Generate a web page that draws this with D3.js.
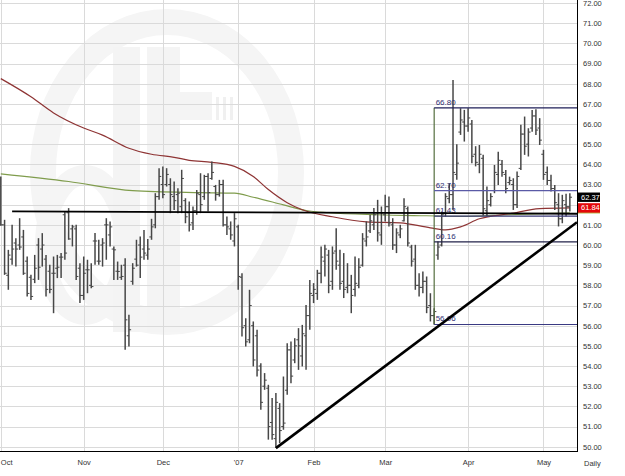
<!DOCTYPE html>
<html>
<head>
<meta charset="utf-8">
<script src="https://cdnjs.cloudflare.com/ajax/libs/d3/7.8.5/d3.min.js"></script>
<style>
  body { margin: 0; background: #fff; }
  svg { display: block; }
</style>
</head>
<body>
<div id="chart"></div>
<script>
// daily bars per month, each row is [open, high, low, close]
const oct06 = [
  [62.9, 63.40, 60.95, 61.0], [61.0, 61.25, 58.52, 58.6], [58.5, 59.76, 57.78, 59.5], [59.3, 61.0, 59.02, 59.8],
  [60.1, 60.34, 58.93, 59.8], [60.0, 61.33, 59.76, 59.9], [60.4, 60.75, 58.52, 58.6], [59.2, 59.43, 57.45, 57.6],
  [58.4, 58.52, 57.28, 57.45], [58.3, 59.51, 58.11, 58.85], [60.0, 60.34, 58.27, 58.9], [59.8, 60.59, 58.93, 60.0],
  [59.3, 59.51, 57.45, 57.8], [58.7, 59.02, 57.61, 57.8], [58.6, 59.43, 56.62, 58.6], [58.85, 59.51, 58.36, 58.9],
  [59.4, 59.6, 58.36, 59.4], [61.5, 61.66, 59.27, 59.6], [61.6, 61.83, 60.26, 60.3], [60.8, 61.0, 59.93, 60.9],
  [60.8, 61.0, 58.27, 58.44], [58.85, 59.1, 57.12, 57.5]
];
const nov06 = [
  [57.5, 59.43, 57.28, 58.6], [58.77, 59.27, 57.61, 58.77], [58.0, 59.1, 57.86, 57.94], [60.2, 60.59, 59.02, 60.2],
  [59.2, 60.26, 59.02, 59.2], [60.0, 60.34, 58.93, 60.1], [61.0, 61.33, 59.27, 61.0], [60.5, 61.17, 59.93, 60.9],
  [59.8, 59.93, 58.27, 59.76], [58.7, 59.18, 58.27, 58.69], [58.4, 59.02, 58.27, 58.44], [59.0, 59.35, 54.81, 56.29],
  [55.5, 56.54, 54.97, 55.8], [58.2, 59.1, 58.03, 58.85], [59.3, 60.26, 58.93, 59.0], [60.0, 60.42, 58.36, 59.4],
  [59.8, 60.75, 59.27, 59.6], [59.5, 60.3, 59.27, 59.8], [60.4, 61.3, 60.26, 60.9], [61.0, 62.57, 60.83, 62.4],
  [62.4, 63.81, 62.24, 63.4]
];
const dec06 = [
  [63.0, 63.89, 62.32, 62.5], [63.0, 63.81, 62.9, 63.5], [63.0, 63.31, 61.58, 62.5], [62.4, 63.15, 61.74, 62.2],
  [62.5, 62.82, 61.58, 62.57], [61.9, 63.73, 61.58, 63.3], [62.2, 62.32, 61.08, 61.4], [61.6, 62.16, 60.67, 61.0],
  [61.1, 61.91, 60.75, 61.7], [61.7, 62.73, 61.5, 62.57], [62.5, 63.56, 61.58, 62.0], [62.4, 63.48, 62.24, 63.4],
  [63.4, 63.56, 61.66, 62.6], [63.3, 64.14, 63.23, 63.6], [62.9, 62.98, 62.2, 62.5], [62.5, 63.23, 62.4, 63.0],
  [63.0, 63.23, 60.92, 61.0], [61.0, 61.41, 60.5, 60.9], [60.8, 61.17, 60.26, 60.5], [60.2, 61.58, 59.93, 61.3]
];
const jan07 = [
  [60.9, 61.0, 57.78, 58.44], [58.4, 58.6, 55.47, 55.9], [56.0, 56.37, 54.97, 55.2], [55.3, 57.78, 55.13, 57.0],
  [56.0, 56.21, 53.98, 54.3], [55.5, 55.8, 53.48, 53.8], [54.0, 54.14, 51.83, 52.2], [53.0, 53.65, 52.82, 53.3],
  [52.9, 53.07, 50.35, 51.0], [51.2, 52.41, 50.35, 50.6], [50.4, 52.66, 49.93, 52.2], [51.9, 52.16, 50.18, 50.8],
  [51.0, 53.48, 50.84, 51.17], [52.8, 55.13, 52.58, 54.8], [54.8, 55.21, 53.15, 53.5], [54.3, 55.38, 54.14, 55.0],
  [55.3, 55.88, 53.81, 55.0], [54.5, 56.04, 53.98, 55.6], [55.5, 57.03, 53.81, 56.5], [56.5, 58.27, 55.8, 57.6]
];
const feb07 = [
  [57.5, 58.11, 57.12, 57.8], [57.6, 58.77, 57.28, 58.6], [58.6, 59.93, 58.11, 59.4], [59.2, 60.01, 58.44, 59.8],
  [59.5, 59.76, 57.61, 58.0], [58.2, 59.93, 57.78, 59.6], [59.7, 60.83, 58.77, 59.2], [59.0, 59.76, 57.78, 58.1],
  [58.2, 59.6, 57.37, 57.8], [57.9, 59.1, 57.61, 58.0], [58.0, 58.52, 56.62, 57.5], [57.8, 59.43, 57.45, 58.1],
  [58.0, 59.35, 57.86, 58.9], [59.0, 60.59, 58.93, 60.3], [60.2, 61.17, 59.93, 60.4], [60.7, 61.5, 60.59, 61.2],
  [61.0, 61.83, 60.75, 61.5], [61.6, 62.24, 60.17, 60.6], [60.5, 61.91, 60.01, 61.6]
];
const mar07 = [
  [61.5, 62.49, 61.17, 61.9], [61.9, 62.4, 60.92, 61.1], [61.0, 61.33, 59.76, 60.0], [60.0, 60.83, 59.6, 60.6],
  [60.5, 61.0, 60.34, 60.8], [61.2, 62.32, 61.17, 61.9], [61.8, 61.91, 59.93, 60.1], [59.9, 60.01, 58.93, 59.2],
  [59.3, 60.01, 57.78, 58.0], [58.0, 58.6, 57.45, 57.9], [57.9, 58.69, 57.61, 58.2], [58.2, 58.44, 56.62, 56.9],
  [57.0, 57.61, 56.21, 56.5], [56.5, 56.87, 56.06, 56.7], [59.5, 60.17, 59.27, 59.9], [60.0, 61.66, 59.93, 61.5],
  [61.6, 62.57, 61.41, 62.4], [62.3, 63.06, 62.07, 62.5], [62.5, 68.18, 61.74, 63.6], [63.5, 65.0, 63.23, 64.06],
  [65.6, 66.78, 65.46, 66.2], [66.1, 66.7, 65.13, 65.9]
];
const apr07 = [
  [65.9, 66.78, 65.62, 66.3], [66.0, 66.2, 64.06, 64.4], [64.5, 64.9, 63.9, 64.1], [64.0, 64.96, 63.56, 64.5],
  [64.3, 64.47, 61.45, 61.8], [61.7, 62.9, 61.41, 62.2], [62.0, 62.57, 61.91, 62.4], [62.7, 63.97, 62.57, 63.6],
  [63.5, 64.63, 62.98, 64.2], [64.0, 64.22, 63.39, 63.6], [63.5, 63.72, 62.57, 62.8], [63.1, 63.39, 62.98, 63.2],
  [63.0, 63.31, 61.74, 62.0], [62.0, 63.64, 61.83, 63.4], [63.8, 65.96, 63.72, 65.5], [65.5, 66.37, 64.47, 64.9],
  [65.0, 65.79, 64.39, 65.6], [65.8, 66.7, 65.62, 66.4], [66.4, 66.73, 65.46, 65.7], [65.8, 66.29, 64.96, 65.2]
];
const may07 = [
  [64.5, 64.72, 63.23, 63.5], [63.6, 63.89, 62.98, 63.2], [63.2, 63.48, 62.65, 62.8], [62.8, 62.98, 61.74, 62.1],
  [62.0, 62.57, 60.92, 61.3], [61.3, 62.49, 61.08, 62.2], [62.0, 62.54, 61.41, 61.9], [61.9, 62.57, 61.66, 62.37]
];

const months = [oct06, nov06, dec06, jan07, feb07, mar07, apr07, may07];
const monthNames = ["Oct", "Nov", "Dec", "'07", "Feb", "Mar", "Apr", "May"];

// moving averages at some bars: [bar, value]
const maRed = [
  [0, 68.25], [8, 67.35], [14, 66.55], [22, 65.8], [27, 65.45], [34, 64.8], [40, 64.5], [46, 64.35],
  [50, 64.2], [56, 64.1], [62, 63.9], [67, 63.4], [71, 62.75], [76, 62.1], [80, 61.75], [88, 61.4],
  [97, 61.15], [106, 61.1], [114, 60.85], [118, 60.75], [122, 60.9], [127, 61.3], [135, 61.55],
  [143, 61.8], [151, 61.84]
];
const maGreen = [
  [0, 63.53], [18, 63.15], [35, 62.7], [53, 62.6], [62, 62.57], [67, 62.37], [75, 61.99], [81, 61.71],
  [87, 61.6], [100, 61.5], [113, 61.45], [122, 61.42], [135, 61.5], [151, 61.6]
];

// drawn studies: [bar, price]
const neckline = [[3, 61.67], [152.9, 61.55]];
const trendline = [[73, 49.93], [152.9, 61.13]];
const fibStart = 115;
const fibLevels = [66.80, 62.70, 61.43, 60.16, 56.06];
const fibColors = ["#1f1f58", "#5a5aa6", "#3a3a78", "#22224a", "#3a3a82"];

const priceTicks = d3.range(50, 73);
const lastClose = 62.37;

const width = 625, height = 476;
const plotRight = 577, plotBottom = 451;
const font = "'Liberation Sans', Arial, sans-serif";

const bars = months.flat().map((d, i) => ({i: i, o: d[0], h: d[1], l: d[2], c: d[3]}));
let k = 0;
const monthStarts = months.map(m => { const s = k; k += m.length; return s; });

const lastRed = maRed[maRed.length - 1][1];
const lastGreen = maGreen[maGreen.length - 1][1];

const x = d3.scaleLinear().domain([0, 152.9]).range([0.8, plotRight]);
const y = d3.scaleLinear().domain([50, 72]).range([446.7, 3]);

const svg = d3.select("#chart").append("svg")
    .attr("width", width)
    .attr("height", height)
    .style("font-family", font);

svg.append("defs").append("clipPath").attr("id", "plot")
  .append("rect").attr("x", 0).attr("y", 0).attr("width", plotRight).attr("height", plotBottom);

// faint logo in the background
const logo = svg.append("g").attr("fill", "none").attr("stroke", "#f5f5f5");
logo.append("ellipse").attr("cx", 167).attr("cy", 172).attr("rx", 124).attr("ry", 150).attr("stroke-width", 26);
logo.append("ellipse").attr("cx", 85).attr("cy", 245).attr("rx", 40).attr("ry", 70).attr("stroke-width", 20);
logo.append("rect").attr("x", 113).attr("y", 47).attr("width", 27).attr("height", 285).attr("fill", "#f4f4f4").attr("stroke", "none");
logo.append("rect").attr("x", 147).attr("y", 47).attr("width", 33).attr("height", 285).attr("fill", "#f4f4f4").attr("stroke", "none");
logo.append("rect").attr("x", 180).attr("y", 92).attr("width", 32).attr("height", 28).attr("fill", "#f4f4f4").attr("stroke", "none");
logo.selectAll(".tick3").data([0, 1, 2]).join("rect")
    .attr("x", d => 216 + d * 7).attr("y", 97).attr("width", 3).attr("height", 23)
    .attr("fill", "#f0f0f0").attr("stroke", "none");

// grid
svg.append("g").attr("stroke", "#dadada").attr("stroke-width", 1)
  .selectAll("line").data(priceTicks).join("line")
    .attr("x1", 0).attr("x2", plotRight)
    .attr("y1", d => Math.round(y(d)) + 0.5).attr("y2", d => Math.round(y(d)) + 0.5);
svg.append("g").attr("stroke", "#dadada").attr("stroke-width", 1)
  .selectAll("line").data(monthStarts).join("line")
    .attr("x1", d => Math.round(x(d)) + 0.5).attr("x2", d => Math.round(x(d)) + 0.5)
    .attr("y1", 0).attr("y2", plotBottom);

const plot = svg.append("g").attr("clip-path", "url(#plot)");

// moving averages
const maLine = d3.line().x(d => x(d[0])).y(d => y(d[1])).curve(d3.curveMonotoneX);
plot.append("path").datum(maGreen).attr("d", maLine)
    .attr("fill", "none").attr("stroke", "#7f9c4c").attr("stroke-width", 1.2);
plot.append("path").datum(maRed).attr("d", maLine)
    .attr("fill", "none").attr("stroke", "#8e3434").attr("stroke-width", 1.2);

// OHLC bars
const bar = plot.append("g").attr("stroke", "#474747")
  .selectAll("g").data(bars).join("g");
bar.append("line")
    .attr("x1", d => x(d.i)).attr("x2", d => x(d.i))
    .attr("y1", d => y(d.h)).attr("y2", d => y(d.l))
    .attr("stroke-width", 1.5);
bar.append("line")
    .attr("x1", d => x(d.i) - 2.2).attr("x2", d => x(d.i))
    .attr("y1", d => y(d.o)).attr("y2", d => y(d.o));
bar.append("line")
    .attr("x1", d => x(d.i)).attr("x2", d => x(d.i) + 2.2)
    .attr("y1", d => y(d.c)).attr("y2", d => y(d.c));

// retracement box
const fib = plot.append("g");
fib.append("line")
    .attr("x1", x(fibStart)).attr("x2", x(fibStart))
    .attr("y1", y(d3.max(fibLevels))).attr("y2", y(d3.min(fibLevels)))
    .attr("stroke", "#556f3f").attr("stroke-width", 1.2);
fib.selectAll(".lvl").data(fibLevels).join("line")
    .attr("x1", x(fibStart)).attr("x2", plotRight)
    .attr("y1", d => y(d)).attr("y2", d => y(d))
    .attr("stroke", (d, i) => fibColors[i]).attr("stroke-width", 1.2);
fib.selectAll("text").data(fibLevels).join("text")
    .attr("x", x(fibStart) + 1.5).attr("y", d => y(d) - 3)
    .attr("font-size", 8).attr("fill", "#2e2e72")
    .text(d => d.toFixed(2));

// drawn lines
const straight = d3.line().x(d => x(d[0])).y(d => y(d[1]));
plot.append("path").datum(neckline).attr("d", straight)
    .attr("stroke", "#000").attr("stroke-width", 1.8);
plot.append("path").datum(trendline).attr("d", straight)
    .attr("stroke", "#000").attr("stroke-width", 2.6);

// frame
svg.append("line").attr("x1", plotRight + 0.5).attr("x2", plotRight + 0.5)
    .attr("y1", 0).attr("y2", plotBottom + 1).attr("stroke", "#000");
svg.append("line").attr("x1", 0).attr("x2", plotRight + 1)
    .attr("y1", plotBottom + 0.5).attr("y2", plotBottom + 0.5).attr("stroke", "#000");

// price axis; the value tags sit over the label they cover
const tagValues = [lastRed, lastClose];
const axisTicks = priceTicks.filter(t => tagValues.every(v => Math.abs(y(t) - y(v)) > 8));
svg.append("g")
    .attr("transform", `translate(${plotRight},0)`)
    .call(d3.axisRight(y).tickValues(axisTicks).tickFormat(d3.format(".2f")).tickSize(0).tickPadding(6))
    .call(g => g.select(".domain").remove())
    .call(g => g.selectAll("text").attr("font-size", 7.5).attr("font-family", font).attr("fill", "#333"));

// time axis
svg.append("g")
    .attr("transform", `translate(0,${plotBottom})`)
    .call(d3.axisBottom(x).tickValues(monthStarts).tickFormat((d, i) => monthNames[i]).tickSize(0).tickPadding(9))
    .call(g => g.select(".domain").remove())
    .call(g => g.selectAll("text").attr("font-size", 7.5).attr("font-family", font).attr("fill", "#333"))
    .call(g => g.select(".tick text").attr("text-anchor", "start").attr("x", -0.5));

svg.append("text")
    .attr("x", 584).attr("y", 466)
    .attr("font-size", 7.5).attr("fill", "#333")
    .text("Daily");

// last value tags
svg.append("line")
    .attr("x1", plotRight + 1).attr("x2", plotRight + 23)
    .attr("y1", y(lastGreen)).attr("y2", y(lastGreen))
    .attr("stroke", "#b4bc48").attr("stroke-width", 1.5);
const tags = [
  {v: lastRed, bg: "#e4070a"},
  {v: lastClose, bg: "#000"}
];
const tag = svg.append("g").selectAll("g").data(tags).join("g")
    .attr("transform", d => `translate(${plotRight + 1},${y(d.v)})`);
tag.append("rect")
    .attr("x", 0).attr("y", -4.7).attr("width", 22).attr("height", 9.4)
    .attr("fill", d => d.bg);
tag.append("text")
    .attr("x", 3).attr("dy", "0.34em")
    .attr("font-size", 7.5).attr("fill", "#fff")
    .text(d => d.v.toFixed(2));
</script>
</body>
</html>
